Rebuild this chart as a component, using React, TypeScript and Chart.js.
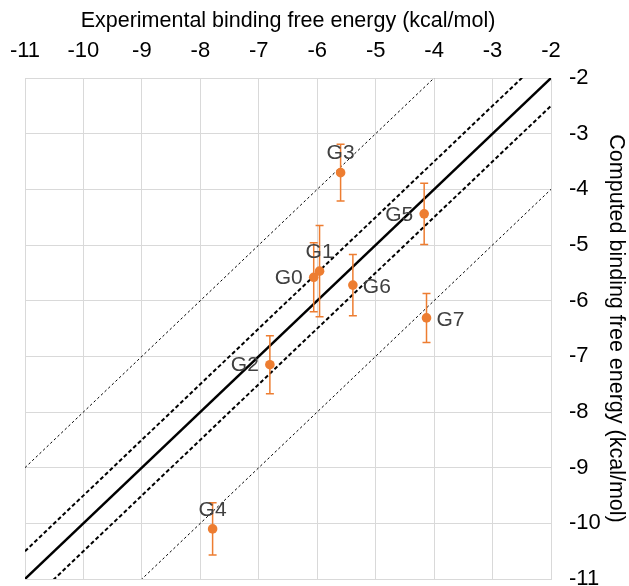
import React, { useEffect, useRef } from "react";
import { Chart, registerables } from "chart.js";

Chart.register(...registerables);

// ---- data ----
const pointLabels = ["G0", "G1", "G2", "G3", "G4", "G5", "G6", "G7"];
const experimental = [-6.06, -5.96, -6.81, -5.6, -7.79, -4.17, -5.39, -4.13];
const computed = [-5.58, -5.47, -7.15, -3.7, -10.1, -4.44, -5.72, -6.31];
const computedError = [0.62, 0.82, 0.52, 0.51, 0.47, 0.55, 0.55, 0.44];
const labelSides = ["left", "above", "left", "above", "above", "left", "right", "right"];
const axisMin = -11;
const axisMax = -2;
const diagonalOffsets = [0, 0.5, -0.5, 2, -2];

const xTitle = "Experimental binding free energy (kcal/mol)";
const yTitle = "Computed binding free energy (kcal/mol)";

const ORANGE = "#ED7D31";
const FONT = "'Liberation Sans', Arial, sans-serif";

const errorAndLabelPlugin = {
  id: "errorAndLabels",
  beforeDatasetDraw(chart: any, args: any) {
    if (args.index !== 0) return;
    const { ctx, scales } = chart;
    const xs = scales.x;
    const ys = scales.y;
    ctx.save();
    ctx.strokeStyle = ORANGE;
    ctx.lineWidth = 1.5;
    experimental.forEach((ex, i) => {
      const px = xs.getPixelForValue(ex);
      const top = ys.getPixelForValue(computed[i] + computedError[i]);
      const bot = ys.getPixelForValue(computed[i] - computedError[i]);
      ctx.beginPath();
      ctx.moveTo(px, top);
      ctx.lineTo(px, bot);
      ctx.moveTo(px - 4, top);
      ctx.lineTo(px + 4, top);
      ctx.moveTo(px - 4, bot);
      ctx.lineTo(px + 4, bot);
      ctx.stroke();
    });
    ctx.restore();
  },
  afterDatasetsDraw(chart: any) {
    const { ctx } = chart;
    const meta = chart.getDatasetMeta(0);
    ctx.save();
    ctx.font = `21px ${FONT}`;
    ctx.fillStyle = "#404040";
    ctx.textBaseline = "middle";
    meta.data.forEach((el: any, i: number) => {
      const side = labelSides[i];
      let x = el.x;
      let y = el.y;
      if (side === "left") {
        ctx.textAlign = "right";
        x -= 11;
        y += 1;
      } else if (side === "right") {
        ctx.textAlign = "left";
        x += 10;
        y += 2;
      } else {
        ctx.textAlign = "center";
        y -= 19;
      }
      ctx.fillText(pointLabels[i], x, y);
    });
    ctx.restore();
  },
};

export default function App() {
  const canvasRef = useRef<HTMLCanvasElement | null>(null);

  useEffect(() => {
    if (!canvasRef.current) return;
    const lineDatasets = diagonalOffsets.map((off) => {
      const abs = Math.abs(off);
      const style =
        abs === 0
          ? { borderWidth: 2.4, borderDash: [] as number[] }
          : abs < 1
          ? { borderWidth: 2, borderDash: [4, 2.5] }
          : { borderWidth: 1, borderDash: [2.5, 2.5] };
      return {
        type: "scatter" as const,
        data: [
          { x: axisMin, y: axisMin + off },
          { x: axisMax, y: axisMax + off },
        ],
        showLine: true,
        borderColor: "#000",
        backgroundColor: "#000",
        pointRadius: 0,
        clip: 0,
        ...style,
      };
    });

    const chart = new Chart(canvasRef.current, {
      type: "scatter",
      data: {
        datasets: [
          {
            data: experimental.map((x, i) => ({ x, y: computed[i] })),
            backgroundColor: ORANGE,
            borderColor: ORANGE,
            borderWidth: 0,
            pointRadius: 4.8,
            showLine: false,
          } as any,
          ...lineDatasets,
        ],
      },
      options: {
        animation: false,
        responsive: false,
        devicePixelRatio: 1,
        layout: { padding: { left: 25, top: 0, right: 0, bottom: 7 } },
        plugins: {
          legend: { display: false },
          tooltip: { enabled: false },
        },
        scales: {
          x: {
            type: "linear",
            position: "top",
            min: axisMin,
            max: axisMax,
            ticks: {
              stepSize: 1,
              color: "#000",
              padding: 14,
              font: { family: FONT, size: 22 },
            },
            grid: { color: "#d9d9d9", lineWidth: 1, drawTicks: false },
            border: { color: "#d9d9d9" },
            title: {
              display: true,
              text: xTitle,
              color: "#000",
              font: { family: FONT, size: 21.5 },
              padding: { top: 8, bottom: 0 },
            },
            afterFit(s: any) {
              s.height = 78;
              s.paddingLeft = 0;
              s.paddingRight = 0;
            },
          } as any,
          y: {
            type: "linear",
            position: "right",
            min: axisMin,
            max: axisMax,
            ticks: {
              stepSize: 1,
              color: "#000",
              padding: 18,
              font: { family: FONT, size: 22 },
            },
            grid: { color: "#d9d9d9", lineWidth: 1, drawTicks: false },
            border: { color: "#d9d9d9" },
            title: {
              display: true,
              text: yTitle,
              color: "#000",
              font: { family: FONT, size: 21.5 },
              padding: { top: 0, bottom: 0 },
            },
            afterFit(s: any) {
              s.width = 78;
              s.paddingTop = 0;
              s.paddingBottom = 0;
            },
          } as any,
        },
      },
      plugins: [errorAndLabelPlugin],
    });
    return () => chart.destroy();
  }, []);

  return (
    <div style={{ position: "absolute", left: 0, top: 0, width: 629, height: 586 }}>
      <canvas ref={canvasRef} width={629} height={586} style={{ display: "block" }} />
    </div>
  );
}
